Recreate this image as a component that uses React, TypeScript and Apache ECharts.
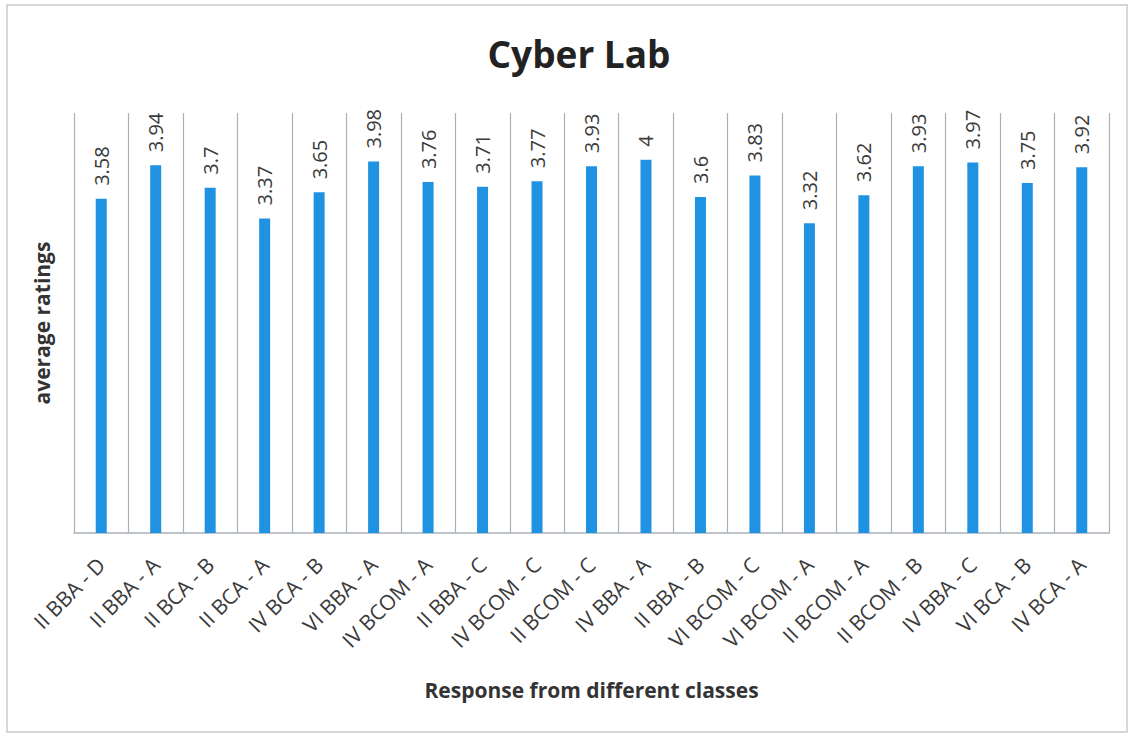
import React, { useEffect, useRef } from "react";
import * as echarts from "echarts";

const categories = [
  "II BBA - D", "II BBA - A", "II BCA - B", "II BCA - A", "IV BCA - B",
  "VI BBA - A", "IV BCOM - A", "II BBA - C", "IV BCOM - C", "II BCOM - C",
  "IV BBA - A", "II BBA - B", "VI BCOM - C", "VI BCOM - A", "II BCOM - A",
  "II BCOM - B", "IV BBA - C", "VI BCA - B", "IV BCA - A",
];
const ratings = [
  3.58, 3.94, 3.7, 3.37, 3.65, 3.98, 3.76, 3.71, 3.77, 3.93,
  4, 3.6, 3.83, 3.32, 3.62, 3.93, 3.97, 3.75, 3.92,
];

const FONT = "'Open Sans', 'Liberation Sans', sans-serif";

export default function App() {
  const ref = useRef<HTMLDivElement>(null);
  useEffect(() => {
    if (!ref.current) return;
    const chart = echarts.init(ref.current, null, { renderer: "svg" });
    chart.setOption({
      animation: false,
      backgroundColor: "#ffffff",
      title: {
        text: "Cyber Lab",
        left: 574,
        textAlign: "center",
        top: 30,
        textStyle: { fontFamily: FONT, fontSize: 37, fontWeight: "bold", color: "#222222" },
      },
      graphic: [
        {
          type: "rect",
          shape: { x: 7, y: 5, width: 1120, height: 727 },
          style: { fill: "none", stroke: "#c8ccd0", lineWidth: 1.5 },
          silent: true,
        },
      ],
      grid: { left: 74, right: 22, top: 113, bottom: 201, containLabel: false },
      xAxis: {
        type: "category",
        data: categories,
        name: "Response from different classes",
        nameLocation: "middle",
        nameGap: 146,
        nameTextStyle: { fontFamily: FONT, fontSize: 21, fontWeight: "bold", color: "#333333" },
        axisLine: { show: true, lineStyle: { color: "#a8b0b8", width: 1.5 } },
        axisTick: { show: false },
        splitLine: { show: true, lineStyle: { color: "#a8b0b8", width: 1.2 } },
        axisLabel: {
          interval: 0,
          rotate: 45,
          margin: 28,
          fontFamily: FONT,
          fontSize: 21,
          color: "#3a3a3a",
        },
      },
      yAxis: {
        type: "value",
        min: 0,
        max: 4.5,
        interval: 0.5,
        name: "average ratings",
        nameLocation: "middle",
        nameGap: 22,
        nameTextStyle: { fontFamily: FONT, fontSize: 21, fontWeight: "bold", color: "#333333" },
        axisLabel: { show: false },
        axisLine: { show: false },
        axisTick: { show: false },
        splitLine: { show: false },
      },
      series: [
        {
          type: "bar",
          data: ratings,
          barWidth: 11,
          itemStyle: { color: "#1f93e2" },
          label: {
            show: true,
            position: "top",
            rotate: 90,
            align: "left",
            verticalAlign: "middle",
            distance: 13,
            fontFamily: FONT,
            fontSize: 20,
            color: "#3a3a3a",
          },
        },
      ],
    });
    return () => chart.dispose();
  }, []);
  return (
    <div
      ref={ref}
      style={{ position: "absolute", left: 0, top: 0, width: 1131, height: 734 }}
    />
  );
}
